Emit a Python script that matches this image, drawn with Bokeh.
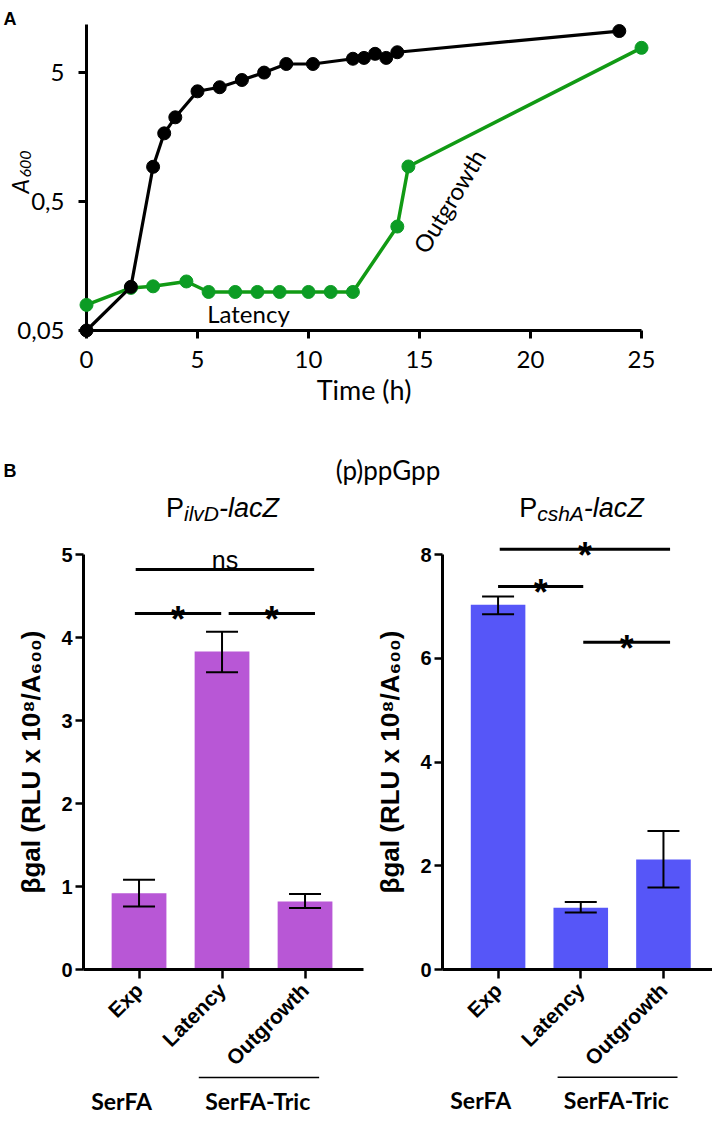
import math
from bokeh.plotting import figure
from bokeh.layouts import column, row
from bokeh.models import Range1d, FixedTicker, CustomJSTickFormatter, Whisker, TeeHead, ColumnDataSource
from bokeh.core.properties import value
from bokeh.embed import file_html
from bokeh.resources import INLINE

# ---------------- Panel A data ----------------
serfa_time = [0, 2, 3, 3.5, 4, 5, 6, 7, 8, 9, 10.2, 12, 12.5, 13, 13.5, 14, 24]
serfa_a600 = [0.05, 0.109, 0.93, 1.69, 2.25, 3.58, 3.85, 4.38, 5.0, 5.83, 5.83, 6.4, 6.5, 6.99, 6.5, 7.19, 10.5]
tric_time = [0, 2, 3, 4.5, 5.5, 6.7, 7.7, 8.7, 10, 11, 12, 14, 14.5, 25]
tric_a600 = [0.079, 0.107, 0.110, 0.120, 0.0995, 0.0995, 0.0995, 0.0995, 0.0995, 0.0995, 0.0995, 0.32, 0.935, 7.78]
time_ticks = [0, 5, 10, 15, 20, 25]
a600_ticks = [0.05, 0.5, 5]

# ---------------- Panel B data ----------------
phases = ["Exp", "Latency", "Outgrowth"]
ilvd_mean = [0.92, 3.83, 0.82]
ilvd_low = [0.76, 3.58, 0.74]
ilvd_high = [1.08, 4.07, 0.91]
csha_mean = [7.03, 1.19, 2.12]
csha_low = [6.85, 1.10, 1.58]
csha_high = [7.19, 1.30, 2.67]
ilvd_ticks = [0, 1, 2, 3, 4, 5]
csha_ticks = [0, 2, 4, 6, 8]
# significance brackets: (from, to, height, label)
ilvd_sig = [(0.96, 3.11, 4.82, "ns"), (0.95, 1.99, 4.29, "*"), (2.08, 3.12, 4.29, "*")]
csha_sig = [(1.02, 3.08, 8.10, "*"), (1.00, 2.03, 7.385, "*"), (2.03, 3.08, 6.31, "*")]
media = ["SerFA", "SerFA-Tric"]
media_pos = [0.79, 2.43]
tric_span = (1.72, 3.17)
reporters = [("ilvD", 35.0, 222), ("cshA", 46.7, 581)]

GREEN = "#119A14"
GREEN_PT = "#0C9C24"
PURPLE = "#B857D6"
BLUE = "#5656F8"
CAL = "Lato"
ARI = "Liberation Sans"
TOP_H = 527

# ---------------- Panel A ----------------
PPX_A = 555 / 25.0
PPD_A = 306 / math.log10(11.8 / 0.05)


def ax(px):
    return (px - 86) / PPX_A


def ay(py):
    return 0.05 * 10 ** ((330 - py) / PPD_A)


pa = figure(width=712, height=TOP_H, x_range=Range1d(0, 25), y_range=Range1d(0.05, 11.8),
            y_axis_type="log", min_border_left=86, min_border_right=71, min_border_top=24,
            min_border_bottom=TOP_H - 330, output_backend="svg", toolbar_location=None)
pa.grid.visible = False
pa.outline_line_color = None
for a in (pa.xaxis[0], pa.yaxis[0]):
    a.axis_line_width = 3
    a.major_tick_line_width = 3
    a.major_tick_out = 8
    a.major_tick_in = 0
    a.minor_tick_line_color = None
    a.major_label_text_font = CAL
    a.major_label_text_font_size = "24px"
    a.major_label_text_color = "black"
pa.xaxis.ticker = FixedTicker(ticks=time_ticks)
pa.yaxis.ticker = FixedTicker(ticks=a600_ticks)
pa.yaxis.formatter = CustomJSTickFormatter(code="return String(tick).replace('.', ',');")
pa.xaxis.major_label_standoff = 12
pa.yaxis.major_label_standoff = 14
pa.xaxis.axis_label = "Time (h)"
pa.xaxis.axis_label_text_font = CAL
pa.xaxis.axis_label_text_font_size = "27px"
pa.xaxis.axis_label_text_font_style = "normal"
pa.xaxis.axis_label_text_color = "black"
pa.xaxis.axis_label_standoff = 2

pa.line(tric_time, tric_a600, line_color=GREEN, line_width=3.5, level="overlay")
pa.scatter(tric_time, tric_a600, size=13, fill_color=GREEN_PT, line_color=GREEN_PT, level="overlay")
pa.line(serfa_time, serfa_a600, line_color="black", line_width=3.2, level="overlay")
pa.scatter(serfa_time, serfa_a600, size=13, fill_color="black", line_color="black", level="overlay")

pa.text(x=[ax(248)], y=[ay(313)], text=["Latency"], text_font=value(CAL), text_font_size="24px",
        text_align="center", text_baseline="middle", level="overlay")
pa.text(x=[ax(448.5)], y=[ay(200.5)], text=["Outgrowth"], text_font=value(CAL), text_font_size="24px",
        text_align="center", text_baseline="middle", angle=math.radians(59), level="overlay")
# y axis title A600
pa.text(x=[ax(19)], y=[ay(193)], text=["A"], text_font=value(CAL), text_font_size="23px",
        text_font_style="italic", text_align="left", text_baseline="alphabetic", angle=math.pi / 2,
        level="overlay")
pa.text(x=[ax(25)], y=[ay(177)], text=["600"], text_font=value(CAL), text_font_size="16px",
        text_font_style="italic", text_align="left", text_baseline="alphabetic", angle=math.pi / 2,
        level="overlay")
# panel letters and heading
pa.text(x=[ax(3), ax(3)], y=[ay(18), ay(470)], text=["A", "B"], text_font=value(ARI),
        text_font_size="18px", text_font_style="bold", text_align="left", text_baseline="alphabetic",
        level="overlay")
pa.text(x=[ax(387.5)], y=[ay(469)], text=["(p)ppGpp"], text_font=value(CAL), text_font_size="26px",
        text_align="center", text_baseline="alphabetic", level="overlay")
# reporter titles P_sub-lacZ
MAIN_W, LAC_W = 18.0, 60.0
for sub, sub_w, centre in reporters:
    x_p = centre - (MAIN_W + sub_w + LAC_W) / 2 + MAIN_W
    pa.text(x=[ax(x_p)], y=[ay(507)], text=["P"], text_font=value(ARI), text_font_size="27px",
            text_align="right", text_baseline="alphabetic", level="overlay")
    pa.text(x=[ax(x_p)], y=[ay(513)], text=[sub], text_font=value(ARI), text_font_size="21px",
            text_font_style="italic", text_align="left", text_baseline="alphabetic", level="overlay")
    pa.text(x=[ax(x_p + sub_w)], y=[ay(507)], text=["-lacZ"], text_font=value(ARI), text_font_size="27px",
            text_font_style="italic", text_align="left", text_baseline="alphabetic", level="overlay")


# ---------------- Panel B ----------------
def bar_panel(means, lows, highs, ticks, y_end, color, sig, x0, width, bl, br, frame_top, frame_bottom):
    ppx = 83.0
    fw = width - bl - br
    bt = frame_top - TOP_H
    fh = frame_bottom - frame_top
    bb = 1116 - frame_bottom
    p = figure(width=width, height=bt + fh + bb, x_range=Range1d(x0, x0 + fw / ppx),
               y_range=Range1d(0, y_end), min_border_left=bl, min_border_right=br,
               min_border_top=bt, min_border_bottom=bb, output_backend="svg", toolbar_location=None)
    ppy = fh / y_end

    def yp(py):
        return (frame_bottom - py) / ppy

    p.grid.visible = False
    p.outline_line_color = None
    xs = list(range(1, len(phases) + 1))
    src = ColumnDataSource(dict(x=xs, top=means, lo=lows, hi=highs))
    p.vbar(x="x", top="top", width=0.66, source=src, fill_color=color, line_color=None)
    p.add_layout(Whisker(source=src, base="x", upper="hi", lower="lo", line_width=2, line_color="black",
                         upper_head=TeeHead(size=32, line_width=2, line_color="black"),
                         lower_head=TeeHead(size=32, line_width=2, line_color="black"),
                         level="annotation"))
    for a in (p.xaxis[0], p.yaxis[0]):
        a.axis_line_width = 3
        a.major_tick_line_width = 2.5
        a.major_tick_in = 0
        a.minor_tick_line_color = None
        a.major_label_text_font = ARI
        a.major_label_text_font_style = "bold"
        a.major_label_text_color = "black"
    p.yaxis.major_tick_out = 8
    p.xaxis.major_tick_out = 9
    p.yaxis.ticker = FixedTicker(ticks=ticks)
    p.yaxis.major_label_text_font_size = "20px"
    p.yaxis.major_label_standoff = 3
    p.yaxis.axis_label = "\u03b2gal (RLU x 10\u2078/A\u2086\u2080\u2080)"
    p.yaxis.axis_label_text_font = ARI
    p.yaxis.axis_label_text_font_size = "26px"
    p.yaxis.axis_label_text_font_style = "bold"
    p.yaxis.axis_label_text_color = "black"
    p.yaxis.axis_label_standoff = 12
    p.xaxis.ticker = FixedTicker(ticks=xs)
    p.xaxis.major_label_overrides = {i: n for i, n in zip(xs, phases)}
    p.xaxis.major_label_orientation = math.pi / 4
    p.xaxis.major_label_text_font_size = "21px"
    p.xaxis.major_label_standoff = 8

    # significance brackets
    p.segment(x0=[s[0] for s in sig], x1=[s[1] for s in sig], y0=[s[2] for s in sig],
              y1=[s[2] for s in sig], line_color="black", line_width=3, level="overlay")
    for s in sig:
        if s[3] == "ns":
            p.text(x=[(s[0] + s[1]) / 2], y=[s[2]], text=[s[3]], text_font=value(ARI), text_font_size="25px",
                   text_align="center", text_baseline="alphabetic", y_offset=-9, level="overlay")
        else:
            p.text(x=[(s[0] + s[1]) / 2], y=[s[2]], text=[s[3]], text_font=value(ARI), text_font_size="36px",
                   text_font_style="bold", text_align="center", text_baseline="alphabetic", y_offset=6,
                   level="overlay")

    # medium group labels
    p.segment(x0=[tric_span[0]], x1=[tric_span[1]], y0=[yp(1077)], y1=[yp(1077)], line_color="black",
              line_width=1.5, level="overlay")
    p.text(x=media_pos, y=[yp(1100)] * 2, text=media, text_font=value(CAL), text_font_size="23px",
           text_font_style="bold", text_align="center", text_baseline="alphabetic", level="overlay")
    return p


pl = bar_panel(ilvd_mean, ilvd_low, ilvd_high, ilvd_ticks, 5, PURPLE, ilvd_sig,
               x0=0.331, width=372, bl=83, br=9, frame_top=554, frame_bottom=969)
pr = bar_panel(csha_mean, csha_low, csha_high, csha_ticks, 8, BLUE, csha_sig,
               x0=0.328, width=340, bl=69, br=0, frame_top=553, frame_bottom=969)

layout = column(pa, row(pl, pr))
open("out.html", "w").write(file_html(layout, INLINE))
